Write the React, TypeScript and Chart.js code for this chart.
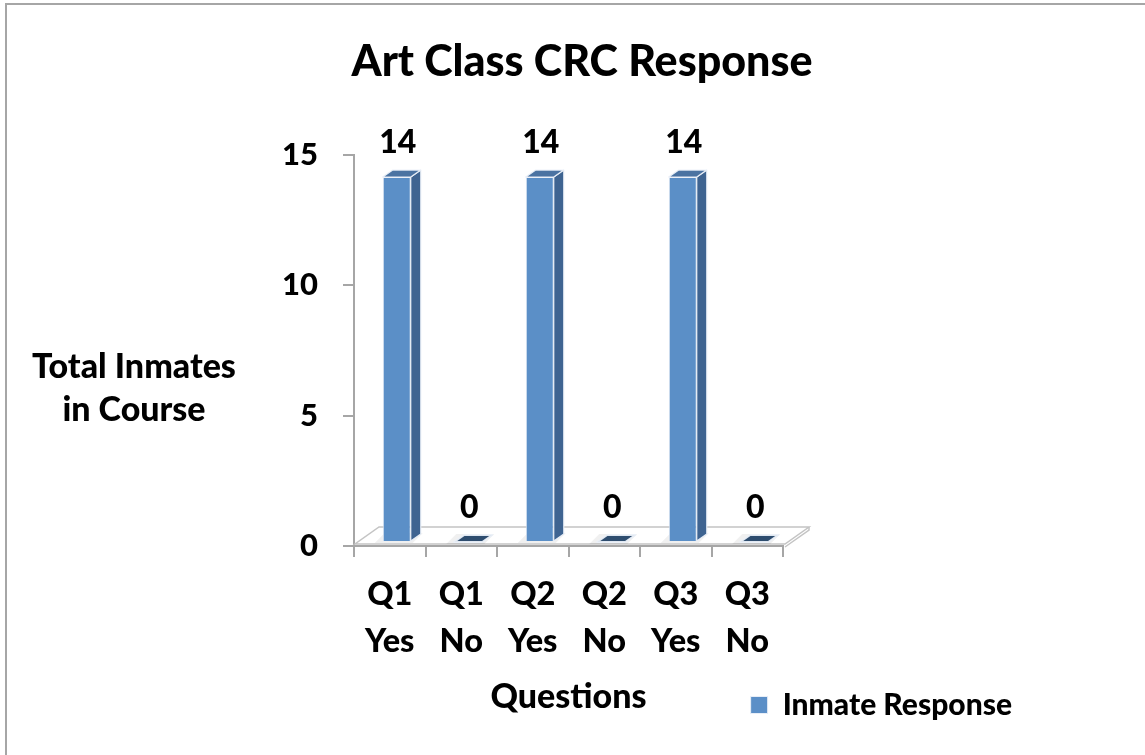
import React, { useEffect, useRef } from 'react';
import { Chart, registerables } from 'chart.js';

Chart.register(...registerables);

// ---------- data ----------
const chartTitle = 'Art Class CRC Response';
const categories: string[][] = [
  ['Q1', 'Yes'],
  ['Q1', 'No'],
  ['Q2', 'Yes'],
  ['Q2', 'No'],
  ['Q3', 'Yes'],
  ['Q3', 'No'],
];
const seriesName = 'Inmate Response';
const inmateResponse: number[] = [14, 0, 14, 0, 14, 0];
const yMin = 0;
const yMax = 15;
const yStep = 5;
const yAxisTitle: string[] = ['Total Inmates', 'in Course'];
const xAxisTitle = 'Questions';

// ---------- style ----------
const FONT = 'Lato, "Open Sans", "DejaVu Sans", sans-serif';
const W = '900';
const FRONT = '#5b8fc7';
const SIDE = '#3f6491';
const TOP = '#4b73a2';
const ZERO_TOP = '#2e4d6f';
const AXIS = '#a6a6a6';
const FRONT_DX = 7;
const FRONT_DY = -4;
const DEPTH_X = 10;
const DEPTH_Y = -7;

const decorPlugin = {
  id: 'decor',
  beforeDraw(chart: any) {
    const ctx = chart.ctx as CanvasRenderingContext2D;
    ctx.save();
    ctx.fillStyle = '#ffffff';
    ctx.fillRect(0, 0, chart.width, chart.height);
    ctx.strokeStyle = AXIS;
    ctx.lineWidth = 2;
    ctx.strokeRect(6, 4, chart.width + 40, chart.height + 40);
    // horizontal y-axis title
    const area = chart.chartArea;
    ctx.fillStyle = '#000';
    ctx.font = `${W} 34px ${FONT}`;
    ctx.textAlign = 'center';
    ctx.textBaseline = 'middle';
    const cx = area.left - 220;
    const y1 = area.top + 212;
    yAxisTitle.forEach((line, i) => ctx.fillText(line, cx, y1 + i * 43));
    ctx.restore();
  },
  beforeDatasetsDraw(chart: any) {
    const ctx = chart.ctx as CanvasRenderingContext2D;
    const { left, right, bottom } = chart.chartArea;
    ctx.save();
    // floor slab
    const fl = left + 1;
    const fr = right + 2;
    const fy = bottom - 2;
    const bx = 24;
    const by = -17;
    ctx.beginPath();
    ctx.moveTo(fl, fy);
    ctx.lineTo(fr, fy);
    ctx.lineTo(fr + bx, fy + by);
    ctx.lineTo(fl + bx, fy + by);
    ctx.closePath();
    ctx.fillStyle = '#ffffff';
    ctx.fill();
    ctx.strokeStyle = '#c4c4c4';
    ctx.lineWidth = 1.5;
    ctx.stroke();
    ctx.beginPath();
    ctx.moveTo(fr + bx, fy + by);
    ctx.lineTo(fr + bx, fy + by + 3);
    ctx.lineTo(fr, fy + 3);
    ctx.stroke();
    // soft shadows under bars
    const meta = chart.getDatasetMeta(0);
    meta.data.forEach((el: any) => {
      const p = el.getProps(['x', 'y', 'base', 'width'], true);
      const L = p.x - p.width / 2 + FRONT_DX;
      const B = p.base + FRONT_DY;
      ctx.fillStyle = 'rgba(0,0,0,0.06)';
      ctx.beginPath();
      ctx.moveTo(L - 8, B + 2);
      ctx.lineTo(L + p.width + 2, B + 2);
      ctx.lineTo(L + p.width + DEPTH_X + 2, B + DEPTH_Y - 1);
      ctx.lineTo(L - 8 + DEPTH_X, B + DEPTH_Y - 1);
      ctx.closePath();
      ctx.fill();
    });
    ctx.restore();
    ctx.save();
    ctx.translate(FRONT_DX, FRONT_DY);
  },
  afterDatasetsDraw(chart: any) {
    const ctx = chart.ctx as CanvasRenderingContext2D;
    ctx.restore();
    ctx.save();
    const meta = chart.getDatasetMeta(0);
    const values = chart.data.datasets[0].data as number[];
    meta.data.forEach((el: any, i: number) => {
      const p = el.getProps(['x', 'y', 'base', 'width'], true);
      const L = p.x - p.width / 2 + FRONT_DX;
      const R = p.x + p.width / 2 + FRONT_DX;
      const T = p.y + FRONT_DY;
      const B = p.base + FRONT_DY;
      ctx.strokeStyle = 'rgba(235,240,248,0.95)';
      ctx.lineWidth = 1.2;
      ctx.lineJoin = 'round';
      if (B - T > 0.5) {
        ctx.beginPath();
        ctx.moveTo(R, T);
        ctx.lineTo(R + DEPTH_X, T + DEPTH_Y);
        ctx.lineTo(R + DEPTH_X, B + DEPTH_Y);
        ctx.lineTo(R, B);
        ctx.closePath();
        ctx.fillStyle = SIDE;
        ctx.fill();
        ctx.stroke();
      }
      ctx.beginPath();
      ctx.moveTo(L, T);
      ctx.lineTo(L + DEPTH_X, T + DEPTH_Y);
      ctx.lineTo(R + DEPTH_X, T + DEPTH_Y);
      ctx.lineTo(R, T);
      ctx.closePath();
      ctx.fillStyle = B - T > 0.5 ? TOP : ZERO_TOP;
      ctx.fill();
      ctx.lineWidth = B - T > 0.5 ? 1.2 : 2;
      ctx.stroke();
      // data label
      ctx.fillStyle = '#000';
      ctx.font = `${W} 32px ${FONT}`;
      ctx.textAlign = 'center';
      ctx.textBaseline = 'middle';
      ctx.fillText(String(values[i]), (L + R) / 2 + 1, T - 34);
    });
    ctx.restore();
  },
};

export default function App() {
  const ref = useRef<HTMLCanvasElement | null>(null);

  useEffect(() => {
    if (!ref.current) return;
    Chart.defaults.font.family = FONT;
    const chart = new Chart(ref.current, {
      type: 'bar',
      data: {
        labels: categories,
        datasets: [
          {
            label: seriesName,
            data: inmateResponse,
            backgroundColor: FRONT,
            borderColor: 'rgba(235,240,248,0.95)',
            borderWidth: 1,
            categoryPercentage: 1,
            barPercentage: 0.392,
            clip: false as any,
          },
        ],
      },
      options: {
        animation: false,
        responsive: true,
        maintainAspectRatio: false,
        layout: { padding: { left: 142, right: 123, top: 10, bottom: 25 } },
        plugins: {
          title: {
            display: true,
            text: chartTitle,
            color: '#000',
            font: { size: 43, weight: W, family: FONT },
            padding: { top: 26.7, bottom: 66.7 },
          },
          legend: {
            display: true,
            position: 'bottom',
            align: 'end',
            labels: {
              color: '#000',
              font: { size: 30, weight: W, family: FONT },
              boxWidth: 17,
              boxHeight: 17,
              padding: 10,
            },
          },
          tooltip: { enabled: false },
        },
        scales: {
          x: {
            grid: {
              display: true,
              drawOnChartArea: false,
              drawTicks: true,
              tickLength: 11,
              color: AXIS,
              lineWidth: 2,
              offset: true,
            },
            border: { display: true, color: AXIS, width: 2 },
            ticks: {
              color: '#000',
              font: { size: 32.5, weight: W, family: FONT, lineHeight: '47px' },
              padding: 14.5,
              maxRotation: 0,
              autoSkip: false,
            },
            title: {
              display: true,
              text: xAxisTitle,
              color: '#000',
              font: { size: 34, weight: W, family: FONT },
              padding: { top: 0, bottom: -37.4 },
            },
            afterFit: (s: any) => {
              s.height = 134;
            },
          },
          y: {
            min: yMin,
            max: yMax,
            ticks: {
              stepSize: yStep,
              color: '#000',
              font: { size: 31, weight: W, family: FONT },
              padding: 25,
            },
            grid: {
              display: true,
              drawOnChartArea: false,
              drawTicks: true,
              tickLength: 11,
              color: AXIS,
              lineWidth: 2,
            },
            border: { display: true, color: AXIS, width: 2 },
            afterFit: (s: any) => {
              s.width = 212;
            },
          },
          y2: {
            position: 'right',
            display: true,
            grid: { display: false, drawTicks: false },
            border: { display: false },
            ticks: { display: false },
            afterFit: (s: any) => {
              s.width = 239;
            },
          },
        },
      } as any,
      plugins: [decorPlugin],
    });
    return () => chart.destroy();
  }, []);

  return (
    <div style={{ position: 'fixed', left: 0, top: 0, width: 1145, height: 755, background: '#fff' }}>
      <canvas ref={ref} />
    </div>
  );
}
